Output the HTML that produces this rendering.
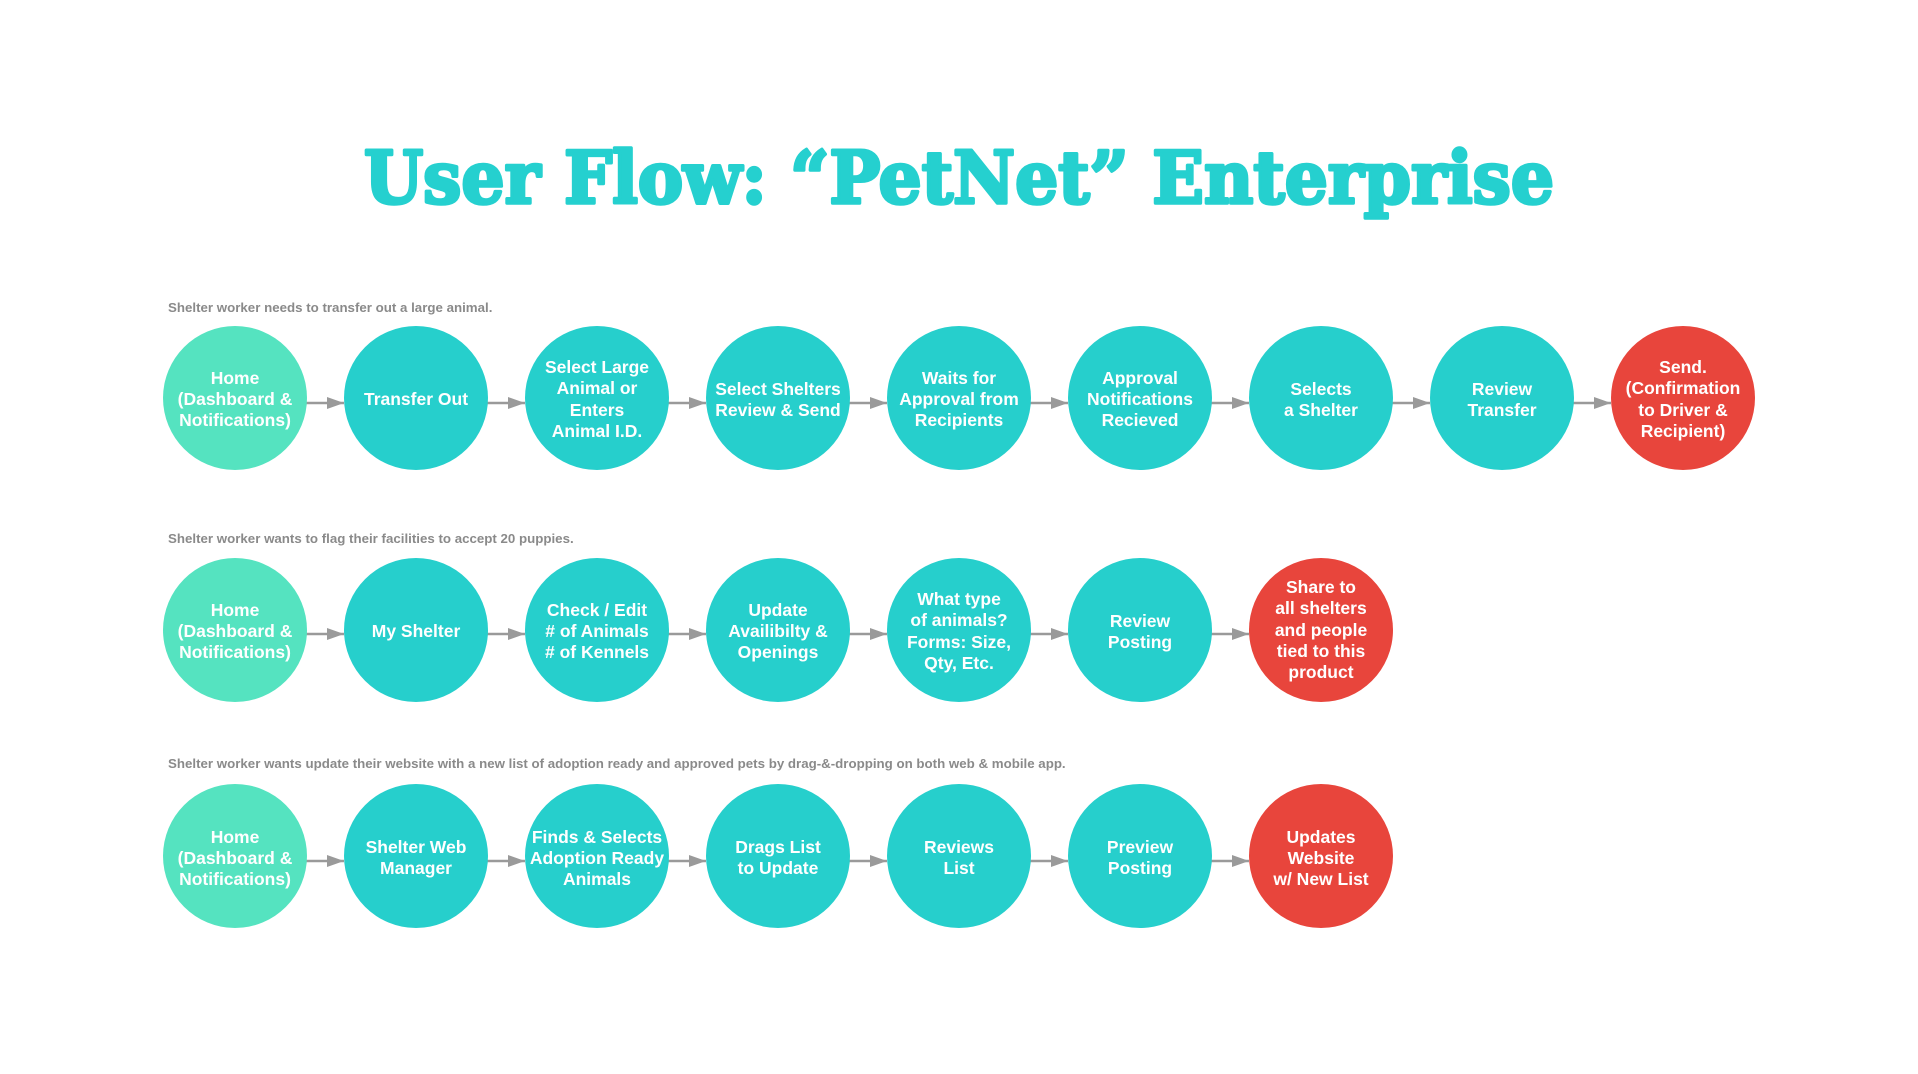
<!DOCTYPE html>
<html><head><meta charset="utf-8"><style>
html,body{margin:0;padding:0;background:#fff;}
svg{display:block;}
.c{font-family:"Liberation Sans",sans-serif;font-weight:bold;font-size:17.5px;fill:#fff;text-anchor:middle;}
.l{font-family:"Liberation Sans",sans-serif;font-weight:bold;font-size:13.3px;fill:#8a8a8a;}
</style></head><body>
<svg width="1918" height="1074" viewBox="0 0 1918 1074" xmlns="http://www.w3.org/2000/svg">
<text x="959" y="203" text-anchor="middle" textLength="1190" lengthAdjust="spacingAndGlyphs" style="font-family:'DejaVu Serif','Liberation Serif',serif;font-weight:bold;font-size:72px;fill:#25d0cf;stroke:#25d0cf;stroke-width:3.5;stroke-linejoin:round;">User Flow: “PetNet” Enterprise</text>

<text class="l" x="168" y="312">Shelter worker needs to transfer out a large animal.</text>
<text class="l" x="168" y="543">Shelter worker wants to flag their facilities to accept 20 puppies.</text>
<text class="l" x="168" y="768">Shelter worker wants update their website with a new list of adoption ready and approved pets by drag-&amp;-dropping on both web &amp; mobile app.</text>

<g stroke="#9a9a9a" stroke-width="2.5">
<line x1="306" y1="403" x2="344" y2="403"/><line x1="487" y1="403" x2="525" y2="403"/><line x1="668" y1="403" x2="706" y2="403"/><line x1="849" y1="403" x2="887" y2="403"/><line x1="1030" y1="403" x2="1068" y2="403"/><line x1="1211" y1="403" x2="1249" y2="403"/><line x1="1392" y1="403" x2="1430" y2="403"/><line x1="1573" y1="403" x2="1611" y2="403"/>
<line x1="306" y1="634" x2="344" y2="634"/><line x1="487" y1="634" x2="525" y2="634"/><line x1="668" y1="634" x2="706" y2="634"/><line x1="849" y1="634" x2="887" y2="634"/><line x1="1030" y1="634" x2="1068" y2="634"/><line x1="1211" y1="634" x2="1249" y2="634"/>
<line x1="306" y1="861" x2="344" y2="861"/><line x1="487" y1="861" x2="525" y2="861"/><line x1="668" y1="861" x2="706" y2="861"/><line x1="849" y1="861" x2="887" y2="861"/><line x1="1030" y1="861" x2="1068" y2="861"/><line x1="1211" y1="861" x2="1249" y2="861"/>
</g>
<g fill="#9a9a9a">
<path d="M327,397 L344,403 L327,409z"/><path d="M508,397 L525,403 L508,409z"/><path d="M689,397 L706,403 L689,409z"/><path d="M870,397 L887,403 L870,409z"/><path d="M1051,397 L1068,403 L1051,409z"/><path d="M1232,397 L1249,403 L1232,409z"/><path d="M1413,397 L1430,403 L1413,409z"/><path d="M1594,397 L1611,403 L1594,409z"/>
<path d="M327,628 L344,634 L327,640z"/><path d="M508,628 L525,634 L508,640z"/><path d="M689,628 L706,634 L689,640z"/><path d="M870,628 L887,634 L870,640z"/><path d="M1051,628 L1068,634 L1051,640z"/><path d="M1232,628 L1249,634 L1232,640z"/>
<path d="M327,855 L344,861 L327,867z"/><path d="M508,855 L525,861 L508,867z"/><path d="M689,855 L706,861 L689,867z"/><path d="M870,855 L887,861 L870,867z"/><path d="M1051,855 L1068,861 L1051,867z"/><path d="M1232,855 L1249,861 L1232,867z"/>
</g>

<g>
<circle cx="235" cy="398" r="72" fill="#55e3c0"/><circle cx="416" cy="398" r="72" fill="#26cfcc"/><circle cx="597" cy="398" r="72" fill="#26cfcc"/><circle cx="778" cy="398" r="72" fill="#26cfcc"/><circle cx="959" cy="398" r="72" fill="#26cfcc"/><circle cx="1140" cy="398" r="72" fill="#26cfcc"/><circle cx="1321" cy="398" r="72" fill="#26cfcc"/><circle cx="1502" cy="398" r="72" fill="#26cfcc"/><circle cx="1683" cy="398" r="72" fill="#e8453c"/>
<circle cx="235" cy="630" r="72" fill="#55e3c0"/><circle cx="416" cy="630" r="72" fill="#26cfcc"/><circle cx="597" cy="630" r="72" fill="#26cfcc"/><circle cx="778" cy="630" r="72" fill="#26cfcc"/><circle cx="959" cy="630" r="72" fill="#26cfcc"/><circle cx="1140" cy="630" r="72" fill="#26cfcc"/><circle cx="1321" cy="630" r="72" fill="#e8453c"/>
<circle cx="235" cy="856" r="72" fill="#55e3c0"/><circle cx="416" cy="856" r="72" fill="#26cfcc"/><circle cx="597" cy="856" r="72" fill="#26cfcc"/><circle cx="778" cy="856" r="72" fill="#26cfcc"/><circle cx="959" cy="856" r="72" fill="#26cfcc"/><circle cx="1140" cy="856" r="72" fill="#26cfcc"/><circle cx="1321" cy="856" r="72" fill="#e8453c"/>
</g>

<g class="c">
<text x="235" y="384">Home</text><text x="235" y="405">(Dashboard &amp;</text><text x="235" y="426">Notifications)</text>
<text x="416" y="405">Transfer Out</text>
<text x="597" y="373">Select Large</text><text x="597" y="394">Animal or</text><text x="597" y="416">Enters</text><text x="597" y="437">Animal I.D.</text>
<text x="778" y="395">Select Shelters</text><text x="778" y="416">Review &amp; Send</text>
<text x="959" y="384">Waits for</text><text x="959" y="405">Approval from</text><text x="959" y="426">Recipients</text>
<text x="1140" y="384">Approval</text><text x="1140" y="405">Notifications</text><text x="1140" y="426">Recieved</text>
<text x="1321" y="395">Selects</text><text x="1321" y="416">a Shelter</text>
<text x="1502" y="395">Review</text><text x="1502" y="416">Transfer</text>
<text x="1683" y="373">Send.</text><text x="1683" y="394">(Confirmation</text><text x="1683" y="416">to Driver &amp;</text><text x="1683" y="437">Recipient)</text>

<text x="235" y="616">Home</text><text x="235" y="637">(Dashboard &amp;</text><text x="235" y="658">Notifications)</text>
<text x="416" y="637">My Shelter</text>
<text x="597" y="616">Check / Edit</text><text x="597" y="637"># of Animals</text><text x="597" y="658"># of Kennels</text>
<text x="778" y="616">Update</text><text x="778" y="637">Availibilty &amp;</text><text x="778" y="658">Openings</text>
<text x="959" y="605">What type</text><text x="959" y="626">of animals?</text><text x="959" y="648">Forms: Size,</text><text x="959" y="669">Qty, Etc.</text>
<text x="1140" y="627">Review</text><text x="1140" y="648">Posting</text>
<text x="1321" y="593">Share to</text><text x="1321" y="614">all shelters</text><text x="1321" y="636">and people</text><text x="1321" y="657">tied to this</text><text x="1321" y="678">product</text>

<text x="235" y="843">Home</text><text x="235" y="864">(Dashboard &amp;</text><text x="235" y="885">Notifications)</text>
<text x="416" y="853">Shelter Web</text><text x="416" y="874">Manager</text>
<text x="597" y="843">Finds &amp; Selects</text><text x="597" y="864">Adoption Ready</text><text x="597" y="885">Animals</text>
<text x="778" y="853">Drags List</text><text x="778" y="874">to Update</text>
<text x="959" y="853">Reviews</text><text x="959" y="874">List</text>
<text x="1140" y="853">Preview</text><text x="1140" y="874">Posting</text>
<text x="1321" y="843">Updates</text><text x="1321" y="864">Website</text><text x="1321" y="885">w/ New List</text>
</g>
</svg>
</body></html>
